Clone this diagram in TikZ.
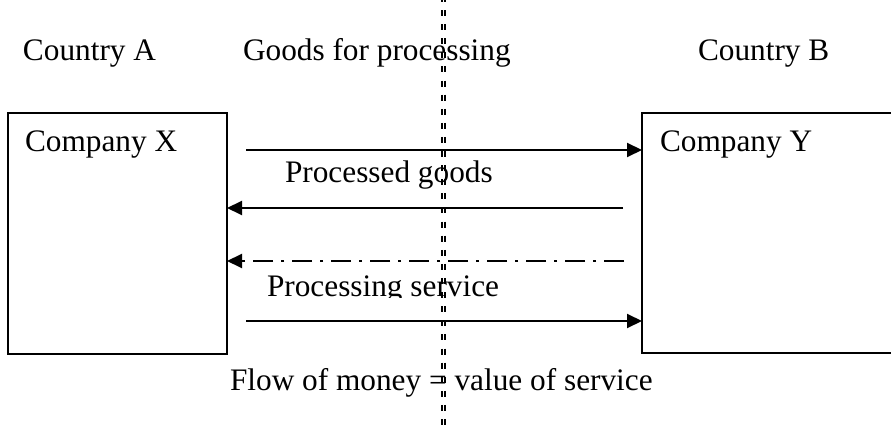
\documentclass[tikz,border=0pt]{standalone}
\usepackage{fontspec}
\setmainfont{Liberation Serif}
\usetikzlibrary{arrows.meta}
\begin{document}
\begin{tikzpicture}[x=1pt,y=-1pt,
  lbl/.style={anchor=base west,inner sep=0pt,outer sep=0pt,font=\fontsize{31.3}{36}\selectfont},
  company/.style={draw,line width=2pt,inner sep=0pt,outer sep=0pt,anchor=north west},
  arr/.style={line width=2pt,-{Triangle[length=15pt,width=14pt]}},
  dashdotline/.style={arr,dash pattern=on 20pt off 8pt on 3pt off 8pt},
  border/.style={line width=2pt,dash pattern=on 6pt off 8.1pt,dash phase=4pt}]
\useasboundingbox (0,0) rectangle (891,430);
\clip (0,0) rectangle (891,430);
\fill[white] (0,0) rectangle (891,430);
% companies
\node[company,minimum width=219pt,minimum height=241pt] (X) at (8,113) {};
\node[company,minimum width=270pt,minimum height=240pt] (Y) at (642,113) {};
% labels
\node[lbl] (ca) at (23,61) {Country A};
\node[lbl] (gp) at (243,61) {Goods for processing};
\node[lbl] (cb) at (698,61) {Country B};
\node[lbl] (cx) at (25,152) {Company X};
\node[lbl] (cy) at (660,152) {Company Y};
\node[lbl] (pg) at (285,183) {Processed goods};
\begin{scope}
\clip (200,250) rectangle (600,297);
\node[lbl] (ps) at (267,296) {Processing service};
\end{scope}
\node[lbl] (fm) at (230,390) {Flow of money = value of service};
% free ends
\coordinate (s1) at (246,150);
\coordinate (s2) at (623,208);
\coordinate (s3) at (624,261);
\coordinate (s4) at (246,321);
\draw[arr] (s1) -- (s1 -| Y.west);
\draw[arr] (s2) -- (s2 -| X.east);
\draw[dashdotline] (s3) -- (s3 -| X.east);
\draw[arr] (s4) -- (s4 -| Y.west);
% border line
\coordinate (bt1) at (441.5,0);
\coordinate (bb1) at (441.5,430);
\coordinate (bt2) at (445,0);
\coordinate (bb2) at (445,430);
\draw[border] (bt1) -- (bb1);
\draw[border] (bt2) -- (bb2);
\end{tikzpicture}
\end{document}
